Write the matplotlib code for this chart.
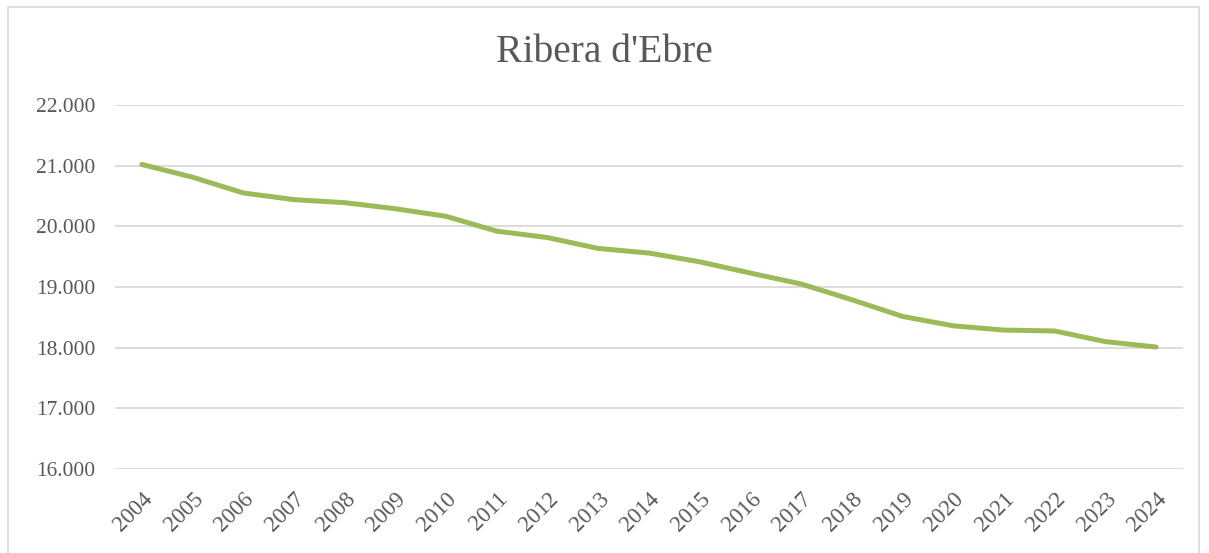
import matplotlib
matplotlib.use("Agg")
import matplotlib.pyplot as plt
from matplotlib.patches import Rectangle
from matplotlib.ticker import FuncFormatter

# dades
years = [str(y) for y in range(2004, 2025)]
population = [21020, 20810, 20550, 20440, 20390, 20290, 20165, 19920, 19815, 19635,
              19560, 19415, 19230, 19050, 18790, 18515, 18360, 18290, 18275, 18100, 18010]

plt.rcParams['font.family'] = ['Liberation Serif', 'DejaVu Serif']

fig = plt.figure(figsize=(12.09, 5.53), dpi=100)
ax = fig.add_axes([115 / 1209, 84 / 553, 1068 / 1209, 364 / 553])

# marc exterior
fig.patches.append(Rectangle((8 / 1209, -0.01), 1191 / 1209, 1 - 7 / 553 + 0.01,
                             transform=fig.transFigure, fill=False,
                             edgecolor='#D9D9D9', linewidth=1.2))

x = range(len(years))
ax.plot(x, population, color='#9BBB59', linewidth=3.6, solid_capstyle='round', zorder=3)

ax.set_xlim(-0.53, len(years) - 0.47)
ax.set_ylim(16000, 22000)
ax.set_yticks(range(16000, 22001, 1000))
ax.yaxis.set_major_formatter(FuncFormatter(lambda v, p: f"{int(v):,}".replace(",", ".")))
ax.set_xticks(list(x))
ax.set_xticklabels(years, rotation=45, ha='right', va='top', rotation_mode='anchor')

ax.grid(axis='y', color='#D9D9D9', linewidth=1.3)
ax.set_axisbelow(True)
for s in ax.spines.values():
    s.set_visible(False)
ax.tick_params(axis='both', length=0, colors='#595959')
ax.tick_params(axis='y', pad=14, labelsize=15.5)
ax.tick_params(axis='x', pad=14, labelsize=16.5)

fig.text(0.5, 1 - 53 / 553, "Ribera d'Ebre", ha='center', va='center',
         fontsize=28.5, color='#595959')

fig.savefig("out.png", dpi=100)
